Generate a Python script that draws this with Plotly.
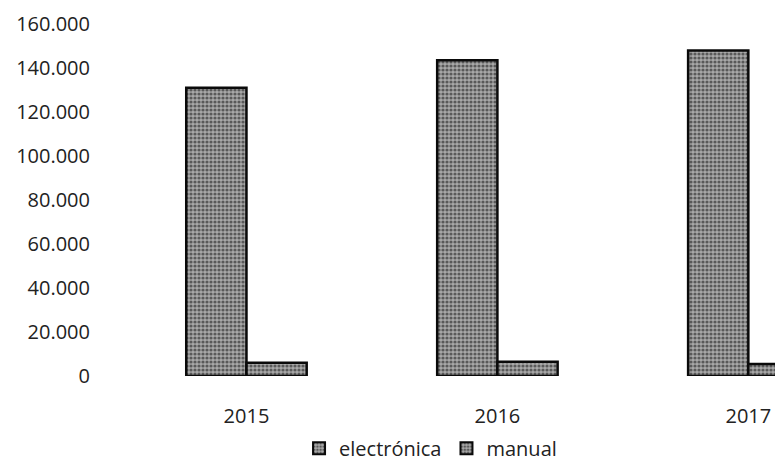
import plotly.graph_objects as go

years = ["2015", "2016", "2017"]
electronica = [131000, 143500, 148000]
manual = [6000, 6500, 5500]
y_ticks = [0, 20000, 40000, 60000, 80000, 100000, 120000, 140000, 160000]

FONT = "Open Sans"

def bar_marker():
    return dict(
        color="#9c9c9c",
        line=dict(color="#0a0a0a", width=2.5),
        pattern=dict(shape=".", fgcolor="#0a0a0a", bgcolor="#a8a8a8",
                     size=4, solidity=0.5),
    )

fig = go.Figure()
fig.add_trace(go.Bar(x=years, y=electronica, name="electrónica", marker=bar_marker()))
fig.add_trace(go.Bar(x=years, y=manual, name="manual", marker=bar_marker()))

fig.update_layout(
    width=783, height=466,
    margin=dict(l=113, r=0, t=16, b=98),
    paper_bgcolor="white", plot_bgcolor="white",
    barmode="group", bargap=0.52, bargroupgap=0,
    separators=",.",
    font=dict(family=FONT, size=20, color="#222222"),
    showlegend=True,
    legend=dict(orientation="h", x=0.462, xanchor="center", y=-0.205, yanchor="middle",
                font=dict(family=FONT, size=20, color="#222222"),
                itemwidth=30, tracegroupgap=0, itemsizing="constant"),
)
fig.update_xaxes(
    type="category", range=[-0.5, 2.17],
    showline=False, showgrid=False, zeroline=False,
    ticks="outside", ticklen=22, tickcolor="rgba(0,0,0,0)",
    tickfont=dict(family=FONT, size=20, color="#222222"),
)
fig.update_yaxes(
    range=[0, 160000], tickvals=y_ticks, tickformat=",d",
    showline=False, showgrid=False, zeroline=False,
    ticks="outside", ticklen=26, tickcolor="rgba(0,0,0,0)",
    tickfont=dict(family=FONT, size=20, color="#222222"),
)

fig.write_html("out.html")
